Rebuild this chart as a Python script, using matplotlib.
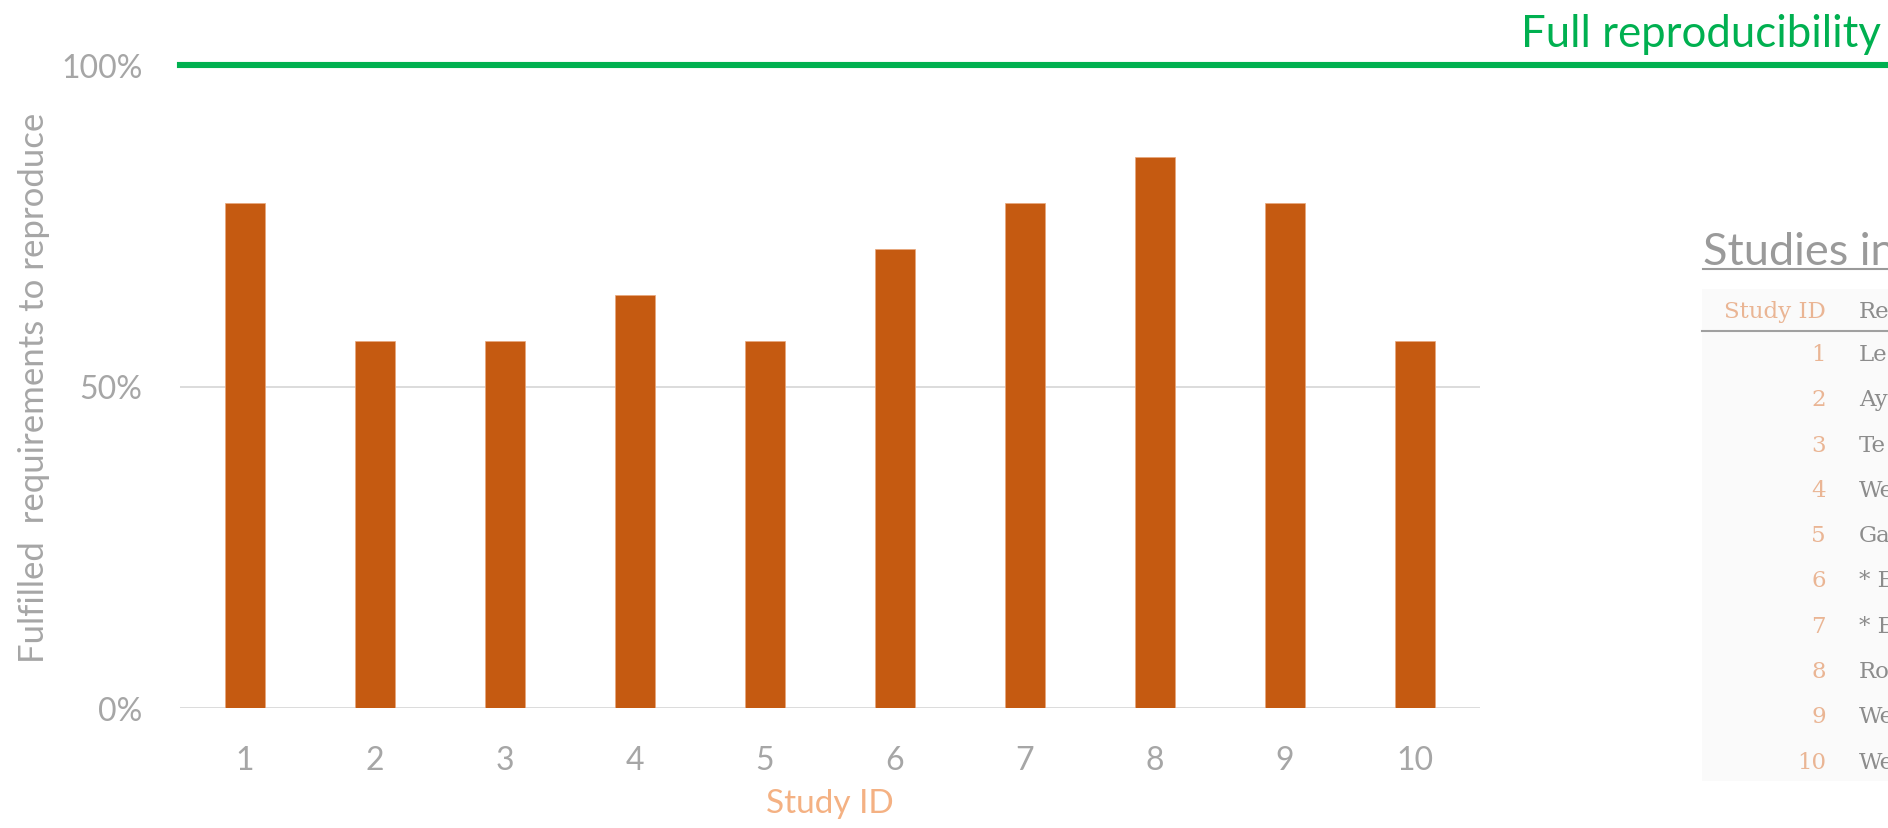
import matplotlib
matplotlib.use("Agg")
import matplotlib.pyplot as plt
from matplotlib.lines import Line2D
from matplotlib.patches import Rectangle
from matplotlib.ticker import FuncFormatter

# ---- data ----
study_ids = ["1", "2", "3", "4", "5", "6", "7", "8", "9", "10"]
requirements_total = 14
requirements_met = [11, 8, 8, 9, 8, 10, 11, 12, 11, 8]
y_ticks = [0.0, 0.5, 1.0]
table_title = "Studies in"
table_header = ["Study ID", "Re"]
table_refs = ["Le", "Ay", "Te", "We", "Ga", "* E", "* E", "Ro", "We", "We"]

fulfilled = [m / requirements_total for m in requirements_met]

# ---- style ----
W, H, DPI = 1888, 829, 100
BAR = "#c55a11"
PEACH = "#f4b183"
GREY = "#a6a6a6"
GRID = "#d9d9d9"
GREEN = "#00b050"
SANS = ["Lato", "DejaVu Sans"]
SERIF = ["DejaVu Serif"]

def fx(px):
    return px / W

def fy(py):
    return 1 - py / H

fig = plt.figure(figsize=(W / DPI, H / DPI), dpi=DPI)
fig.patch.set_facecolor("white")

ax = fig.add_axes([fx(180), fy(709), fx(1480) - fx(180), fy(66) - fy(709)])
x = list(range(len(study_ids)))
ax.bar(x, fulfilled, width=0.31, color=BAR, edgecolor="#e9a77c", linewidth=0.5, zorder=3)
ax.set_xlim(-0.5, len(study_ids) - 0.5)
ax.set_ylim(0, 1)
ax.set_xticks(x)
ax.set_xticklabels(study_ids)
ax.set_yticks(y_ticks)
ax.yaxis.set_major_formatter(FuncFormatter(lambda v, _: f"{v:.0%}"))
for s in ax.spines.values():
    s.set_visible(False)
ax.tick_params(length=0, labelsize=23, labelcolor=GREY)
ax.tick_params(axis="y", pad=27)
ax.tick_params(axis="x", pad=27)
for lab in ax.get_xticklabels() + ax.get_yticklabels():
    lab.set_family(SANS)
ax.yaxis.grid(True, color=GRID, linewidth=1.3, zorder=0)
ax.set_axisbelow(True)

ax.set_ylabel("Fulfilled  requirements to reproduce", fontsize=25, color=GREY,
              family=SANS, labelpad=8)
ax.set_xlabel("Study ID", fontsize=24, color=PEACH, family=SANS, labelpad=9)

# full-reproducibility reference line
ax.axhline(1.0, xmin=0, xmax=(W - 180) / 1300, color=GREEN, linewidth=4.4,
           clip_on=False, zorder=4)
fig.text(fx(1881), fy(47), "Full reproducibility", color=GREEN, fontsize=31.5,
         family=SANS, ha="right", va="baseline")

# ---- study table on the right ----
fig.add_artist(Rectangle((fx(1702), fy(782)), fx(W) - fx(1702), fy(290) - fy(782),
                         transform=fig.transFigure, facecolor="#fafafa",
                         edgecolor="none", zorder=0))
fig.text(fx(1703), fy(265), table_title, color="#9a9a9a", fontsize=32.5,
         family=SANS, ha="left", va="baseline")
fig.add_artist(Line2D([fx(1703), fx(W)], [fy(270), fy(270)], color="#9a9a9a",
                      linewidth=1.5, transform=fig.transFigure))
fig.text(fx(1826), fy(312), table_header[0], color="#eab594", fontsize=16.5,
         family=SERIF, ha="right", va="center")
fig.text(fx(1859), fy(312), table_header[1], color="#8c8c8c", fontsize=16.5,
         family=SERIF, ha="left", va="center")
fig.add_artist(Line2D([fx(1702), fx(W)], [fy(332), fy(332)], color="#a0a0a0",
                      linewidth=1.5, transform=fig.transFigure))
for i, (sid, ref) in enumerate(zip(study_ids, table_refs)):
    yc = 355 + 45.3 * i
    fig.text(fx(1826), fy(yc), sid, color="#eab594", fontsize=16.5,
             family=SERIF, ha="right", va="center")
    fig.text(fx(1859), fy(yc), ref, color="#8c8c8c", fontsize=16.5,
             family=SERIF, ha="left", va="center")

fig.savefig("out.png", dpi=DPI)
